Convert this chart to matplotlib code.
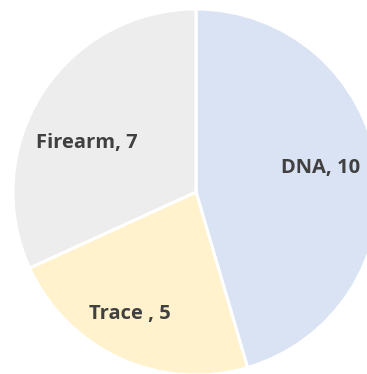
import matplotlib
matplotlib.use("Agg")
import matplotlib.pyplot as plt
import numpy as np

categories = ["DNA", "Trace ", "Firearm"]
values = [10, 5, 7]
colors = ["#DAE3F3", "#FFF2CC", "#EDEDED"]
# label anchor positions (in pie-radius units, baseline)
label_pos = [(0.678, 0.102), (-0.359, -0.694), (-0.598, 0.239)]

W, H = 367, 374
cx, cy, R = 196, 192, 183

fig = plt.figure(figsize=(W / 100, H / 100), dpi=100)
ax = fig.add_axes([0, 0, 1, 1])
labels = [f"{c}, {v}" for c, v in zip(categories, values)]
wedges, texts = ax.pie(values, labels=labels, colors=colors, startangle=90,
                       counterclock=False, radius=1.0, labeldistance=0.69,
                       wedgeprops=dict(edgecolor="white", linewidth=2.2),
                       textprops=dict(fontsize=14.5, fontweight="bold", color="#404040",
                                      family=["Open Sans", "DejaVu Sans"]))
for t, p in zip(texts, label_pos):
    t.set_ha("center")
    t.set_va("baseline")
    t.set_position(p)
ax.set_xlim(-cx / R, (W - cx) / R)
ax.set_ylim(-(H - cy) / R, cy / R)
ax.set_aspect("auto")
ax.axis("off")
fig.savefig("out.png", dpi=100)
